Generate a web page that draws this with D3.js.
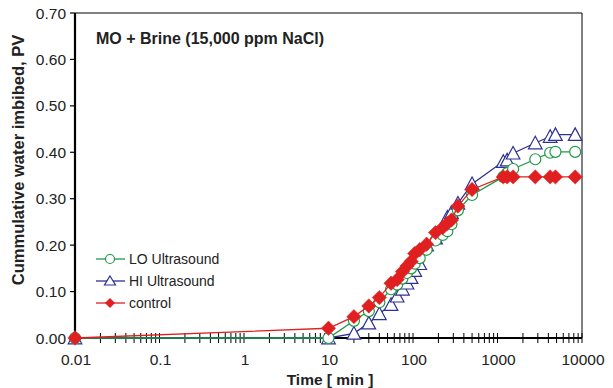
<!DOCTYPE html>
<html><head><meta charset="utf-8">
<script src="https://cdn.jsdelivr.net/npm/d3@7"></script>
<style>body{margin:0;background:#fff}svg{display:block}text{font-family:"Liberation Sans",Arial,sans-serif}</style>
</head><body>
<svg id="c" width="613" height="388"></svg>
<script>
const times = [0.01, 10, 20, 30, 40, 55, 65, 75, 85, 95, 105, 120, 145, 185, 225, 255, 285, 340, 500, 1170, 1300, 1530, 2800, 4200, 4850, 8300];
const loUltrasound = [0, 0, 0.037, 0.058, 0.077, 0.105, 0.115, 0.128, 0.14, 0.15, 0.16, 0.172, 0.19, 0.21, 0.222, 0.23, 0.245, 0.275, 0.308, 0.347, 0.355, 0.364, 0.385, 0.399, 0.401, 0.401];
const hiUltrasound = [0, 0, 0.01, 0.032, 0.052, 0.072, 0.09, 0.105, 0.118, 0.13, 0.145, 0.16, 0.2, 0.215, 0.235, 0.26, 0.27, 0.29, 0.332, 0.38, 0.383, 0.398, 0.42, 0.434, 0.438, 0.438];
const control = [0, 0.021, 0.046, 0.069, 0.087, 0.118, 0.126, 0.143, 0.155, 0.165, 0.182, 0.19, 0.202, 0.227, 0.238, 0.247, 0.254, 0.284, 0.32, 0.347, 0.347, 0.347, 0.347, 0.347, 0.347, 0.347];
const xTicks = [0.01, 0.1, 1, 10, 100, 1000, 10000];
const xTickLabels = ["0.01", "0.1", "1", "10", "100", "1000", "10000"];
const yTicks = [0, 0.1, 0.2, 0.3, 0.4, 0.5, 0.6, 0.7];
const seriesNames = ["LO Ultrasound", "HI Ultrasound", "control"];
const title = "MO + Brine (15,000 ppm NaCl)";

const svg = d3.select("#c");
const L = 75, R = 582, T = 13, B = 338;
const x = d3.scaleLog().domain([0.01, 10000]).range([L, R]);
const y = d3.scaleLinear().domain([0, 0.7]).range([B, T]);

// frame top/right
svg.append("line").attr("x1", L).attr("x2", R).attr("y1", T).attr("y2", T).attr("stroke", "#000").attr("stroke-width", 1);
svg.append("line").attr("x1", R).attr("x2", R).attr("y1", T).attr("y2", B).attr("stroke", "#000").attr("stroke-width", 1);

// minor x ticks
const minor = [];
for (let e = -2; e < 4; e++) for (let k = 1; k <= 9; k++) minor.push(k * Math.pow(10, e));
minor.push(10000);
svg.append("g").selectAll("line").data(minor).join("line")
  .attr("x1", d => x(d)).attr("x2", d => x(d)).attr("y1", B - 5).attr("y2", B + 5)
  .attr("stroke", "#000").attr("stroke-width", 1);

// axes lines
svg.append("line").attr("x1", L).attr("x2", R).attr("y1", B).attr("y2", B).attr("stroke", "#000").attr("stroke-width", 2.2);
svg.append("line").attr("x1", L).attr("x2", L).attr("y1", T).attr("y2", B).attr("stroke", "#000").attr("stroke-width", 2.2);

// y ticks
const yg = svg.append("g");
yg.selectAll("line").data(yTicks).join("line")
  .attr("x1", L - 5).attr("x2", L).attr("y1", d => y(d)).attr("y2", d => y(d)).attr("stroke", "#000").attr("stroke-width", 1.2);
yg.selectAll("text").data(yTicks).join("text")
  .attr("x", 66).attr("y", d => y(d)).attr("dy", "0.36em").attr("text-anchor", "end")
  .attr("font-size", 15.5).attr("fill", "#222").text(d => d.toFixed(2));

// x tick labels
svg.append("g").selectAll("text").data(xTicks).join("text")
  .attr("x", d => x(d) + 1).attr("y", 365).attr("text-anchor", "middle")
  .attr("font-size", 15.5).attr("fill", "#222").text((d, i) => xTickLabels[i]);

// axis titles
svg.append("text").attr("x", 330).attr("y", 385).attr("text-anchor", "middle")
  .attr("font-size", 15.5).attr("font-weight", "bold").attr("fill", "#222").text("Time [ min ]");
svg.append("text").attr("transform", "translate(24,160) rotate(-90)").attr("text-anchor", "middle")
  .attr("font-size", 16.5).attr("font-weight", "bold").attr("fill", "#222").text("Cummulative water imbibed, PV");

svg.append("text").attr("x", 96).attr("y", 44).attr("font-size", 16).attr("font-weight", "bold")
  .attr("fill", "#222").text(title);

const colors = ["#1f9a48", "#2e3192", "#e02020"];
const data = [loUltrasound, hiUltrasound, control];
const line = d3.line().x(d => x(d[0])).y(d => y(d[1]));

function marker(g, i, cx, cy) {
  if (i === 0) {
    g.append("circle").attr("cx", cx).attr("cy", cy).attr("r", 5.5).attr("fill", "#fff").attr("stroke", colors[0]).attr("stroke-width", 1.2);
  } else if (i === 1) {
    const s = 6.8;
    g.append("path").attr("d", `M${cx},${cy - s}L${cx + s},${cy + s * 0.85}L${cx - s},${cy + s * 0.85}Z`)
      .attr("fill", "#fff").attr("stroke", colors[1]).attr("stroke-width", 1.2);
  } else {
    const s = 7.2;
    g.append("path").attr("d", `M${cx},${cy - s}L${cx + s},${cy}L${cx},${cy + s}L${cx - s},${cy}Z`)
      .attr("fill", colors[2]).attr("stroke", colors[2]).attr("stroke-width", 0.5);
  }
}

const order = [1, 0, 2];
order.forEach(i => {
  const pts = times.map((t, j) => [t, data[i][j]]);
  const g = svg.append("g");
  g.append("path").attr("d", line(pts)).attr("fill", "none").attr("stroke", colors[i]).attr("stroke-width", 1.3);
  pts.forEach(p => marker(g, i, x(p[0]), y(p[1])));
});

// legend
const leg = svg.append("g");
seriesNames.forEach((n, i) => {
  const ly = 259 + i * 22;
  leg.append("line").attr("x1", 96).attr("x2", 125).attr("y1", ly).attr("y2", ly).attr("stroke", colors[i]).attr("stroke-width", 1.3);
  if (i === 0) leg.append("circle").attr("cx", 110).attr("cy", ly).attr("r", 4.5).attr("fill", "#fff").attr("stroke", colors[0]).attr("stroke-width", 1.2);
  else if (i === 1) leg.append("path").attr("d", `M110,${ly - 5}L115.5,${ly + 4}L104.5,${ly + 4}Z`).attr("fill", "#fff").attr("stroke", colors[1]).attr("stroke-width", 1.2);
  else leg.append("path").attr("d", `M110,${ly - 5}L115,${ly}L110,${ly + 5}L105,${ly}Z`).attr("fill", colors[2]);
  leg.append("text").attr("x", 129).attr("y", ly).attr("dy", "0.33em").attr("font-size", 14).attr("fill", "#222").text(n);
});
</script>
</body></html>
